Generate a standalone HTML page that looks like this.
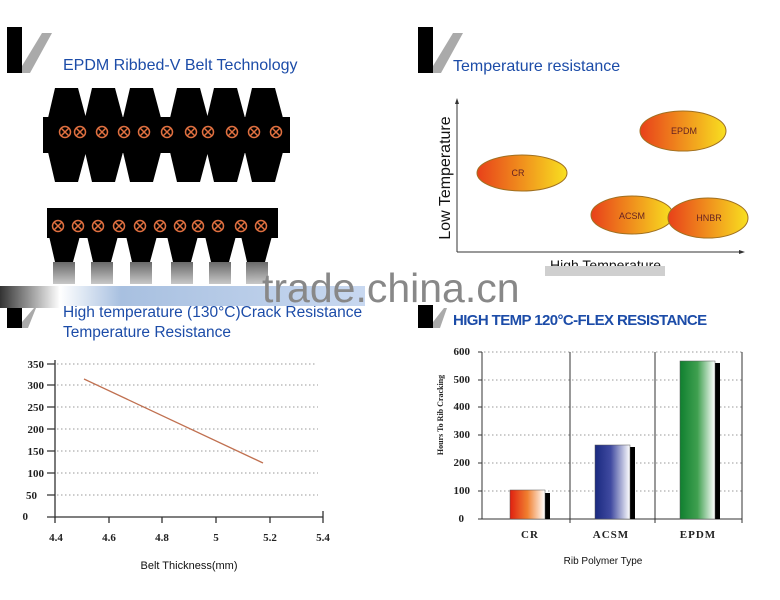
<!DOCTYPE html>
<html><head><meta charset="utf-8"><style>
body{margin:0;background:#fff;width:780px;height:600px;overflow:hidden}
svg{display:block}
.t{font-family:"Liberation Sans",sans-serif;fill:#1c4ca8}
.s{font-family:"Liberation Serif",serif;font-weight:bold;font-size:11px;fill:#222}
</style></head><body>
<svg width="780" height="600" viewBox="0 0 780 600">
<defs>
<linearGradient id="og" x1="0" x2="1"><stop offset="0" stop-color="#e8401a"/><stop offset="1" stop-color="#f8e020"/></linearGradient>
<linearGradient id="rg" x1="0" x2="1"><stop offset="0" stop-color="#e02010"/><stop offset="0.5" stop-color="#f08030"/><stop offset="1" stop-color="#fff"/></linearGradient>
<linearGradient id="bg" x1="0" x2="1"><stop offset="0" stop-color="#1a2a80"/><stop offset="0.45" stop-color="#404aa0"/><stop offset="1" stop-color="#fff"/></linearGradient>
<linearGradient id="gg" x1="0" x2="1"><stop offset="0" stop-color="#108030"/><stop offset="0.5" stop-color="#40a050"/><stop offset="1" stop-color="#fff"/></linearGradient>
<linearGradient id="wb" x1="0" x2="1"><stop offset="0" stop-color="#fff"/><stop offset="0.2" stop-color="#a8c0e0"/><stop offset="1" stop-color="#c8d8f0"/></linearGradient>
<linearGradient id="lg" x1="0" x2="1"><stop offset="0" stop-color="#000"/><stop offset="1" stop-color="#fff"/></linearGradient>
<linearGradient id="vg" x1="0" y1="0" x2="0" y2="1"><stop offset="0" stop-color="#444"/><stop offset="1" stop-color="#bbb"/></linearGradient>
</defs>
<g><rect x="7" y="27" width="15" height="46"/><polygon points="22,73 22,66 42,33 52,33 30,73" fill="#aaa"/></g>
<g><rect x="418" y="27" width="15" height="46"/><polygon points="433,73 433,66 453,33 463,33 441,73" fill="#aaa"/></g>
<g><rect x="7" y="308" width="15" height="20"/><polygon points="22,328 22,322 34,308 36,308 28,328" fill="#aaa"/></g>
<g><rect x="418" y="305" width="15" height="23"/><polygon points="433,328 433,322 444,308 447,308 440,328" fill="#aaa"/></g>
<text class="t" x="63" y="70" font-size="16">EPDM Ribbed-V Belt Technology</text>
<text class="t" x="453" y="71" font-size="16">Temperature resistance</text>
<text class="t" x="63" y="317" font-size="15.5">High temperature (130°C)Crack Resistance</text>
<text class="t" x="63" y="337" font-size="15.5">Temperature Resistance</text>
<text class="t" x="453" y="325" font-size="15" font-weight="bold" letter-spacing="-0.6">HIGH TEMP 120°C-FLEX RESISTANCE</text>
<g fill="#000">
<rect x="43" y="117" width="247" height="36"/>
<g id="tt"><polygon points="48,118 55,88 78,88 86,118"/><polygon points="48,152 55,182 78,182 86,152"/></g>
<use href="#tt" x="37"/><use href="#tt" x="75"/><use href="#tt" x="122"/><use href="#tt" x="159"/><use href="#tt" x="197"/>
</g>
<g fill="none" stroke="#e07040" stroke-width="1.5">
<g id="c1"><circle cx="65" cy="132" r="5.5"/><path d="M61,128l8,8M69,128l-8,8"/></g>
<use href="#c1" x="15"/><use href="#c1" x="37"/><use href="#c1" x="59"/><use href="#c1" x="79"/><use href="#c1" x="102"/><use href="#c1" x="126"/><use href="#c1" x="143"/><use href="#c1" x="167"/><use href="#c1" x="189"/><use href="#c1" x="211"/>
</g>
<g fill="#000">
<rect x="47" y="208" width="231" height="30"/>
<g id="t2"><polygon points="49,236 55,262 73,262 80,236"/></g>
<use href="#t2" x="38"/><use href="#t2" x="77"/><use href="#t2" x="118"/><use href="#t2" x="156"/><use href="#t2" x="192"/>
</g>
<g fill="none" stroke="#e07040" stroke-width="1.5">
<g id="c2"><circle cx="58" cy="226" r="5.5"/><path d="M54,222l8,8M62,222l-8,8"/></g>
<use href="#c2" x="20"/><use href="#c2" x="40"/><use href="#c2" x="61"/><use href="#c2" x="82"/><use href="#c2" x="102"/><use href="#c2" x="122"/><use href="#c2" x="140"/><use href="#c2" x="160"/><use href="#c2" x="183"/><use href="#c2" x="203"/>
</g>
<g fill="url(#vg)" opacity="0.8">
<rect x="53" y="262" width="22" height="22"/><rect x="91" y="262" width="22" height="22"/><rect x="130" y="262" width="22" height="22"/><rect x="171" y="262" width="22" height="22"/><rect x="209" y="262" width="22" height="22"/><rect x="246" y="262" width="22" height="22"/>
</g>
<rect x="0" y="286" width="60" height="22" fill="url(#lg)" opacity="0.8"/>
<rect x="60" y="286" width="305" height="20" fill="url(#wb)"/>
<text x="262" y="302" font-family="Liberation Sans,sans-serif" font-size="41" fill="#888">trade.china.cn</text>
<g stroke="#333" stroke-width="1" fill="none"><path d="M457,252V103M457,252H740"/></g>
<polygon points="457,98 455,104 459,104" fill="#333"/><polygon points="745,252 739,250 739,254" fill="#333"/>
<text x="450" y="178" transform="rotate(-90 450 178)" text-anchor="middle" font-family="Liberation Sans,sans-serif" font-size="16" fill="#111">Low Temperature</text>
<text x="550" y="270" font-family="Liberation Sans,sans-serif" font-size="14" fill="#111">High Temperature</text>
<rect x="540" y="266" width="140" height="10" fill="#fff"/>
<rect x="545" y="266" width="120" height="10" fill="#bbb" opacity="0.7"/>
<g stroke="#a07020" stroke-width="1" fill="url(#og)">
<ellipse cx="683" cy="131" rx="43" ry="20"/><ellipse cx="522" cy="173" rx="45" ry="18"/>
<ellipse cx="632" cy="215" rx="41" ry="19"/><ellipse cx="708" cy="218" rx="40" ry="20"/>
</g>
<g font-family="Liberation Sans,sans-serif" font-size="9" fill="#622" text-anchor="middle">
<text x="684" y="134">EPDM</text><text x="518" y="176">CR</text><text x="632" y="219">ACSM</text><text x="709" y="221">HNBR</text></g>
<g stroke="#999" stroke-dasharray="1.5,2.5">
<path d="M57,364H315M57,385H318M57,407H318M57,429H318M57,451H318M57,473H318M57,495H318"/></g>
<g stroke="#333" stroke-width="1.3" fill="none">
<path d="M55,360V518M47,517H323"/>
<path d="M47,364H55M47,385H55M47,407H55M47,429H55M47,451H55M47,473H55M47,495H55"/>
<path d="M55,517v6M109,517v6M162,517v6M216,517v6M270,517v6M323,511v12"/></g>
<path d="M84,379L263,463" stroke="#c07050" stroke-width="1.3"/>
<g class="s" text-anchor="end"><text x="44" y="368">350</text><text x="44" y="389">300</text><text x="44" y="411">250</text><text x="44" y="433">200</text><text x="44" y="455">150</text><text x="44" y="477">100</text><text x="37" y="499">50</text><text x="28" y="520">0</text></g>
<g class="s" text-anchor="middle"><text x="56" y="541">4.4</text><text x="109" y="541">4.6</text><text x="162" y="541">4.8</text><text x="216" y="541">5</text><text x="270" y="541">5.2</text><text x="323" y="541">5.4</text></g>
<text x="189" y="569" text-anchor="middle" font-family="Liberation Sans,sans-serif" font-size="11" fill="#111">Belt Thickness(mm)</text>
<g stroke="#999" stroke-dasharray="1.5,2.5">
<path d="M484,352H742M484,380H742M484,407H742M484,435H742M484,463H742M484,491H742"/></g>
<g stroke="#333" stroke-width="1" fill="none">
<path d="M482,352V519M478,519H742M570,352V523M655,352V523M742,352V523"/>
<path d="M478,352H482M478,380H482M478,407H482M478,435H482M478,463H482M478,491H482"/></g>
<rect x="545" y="493" width="5" height="26"/><rect x="510" y="490" width="35" height="29" fill="url(#rg)" stroke="#555" stroke-width="0.5"/>
<rect x="630" y="447" width="5" height="72"/><rect x="595" y="445" width="35" height="74" fill="url(#bg)" stroke="#555" stroke-width="0.5"/>
<rect x="715" y="363" width="5" height="156"/><rect x="680" y="361" width="35" height="158" fill="url(#gg)" stroke="#555" stroke-width="0.5"/>
<g class="s" font-size="9" text-anchor="end"><text x="470" y="355">600</text><text x="470" y="383">500</text><text x="470" y="410">400</text><text x="470" y="438">300</text><text x="470" y="466">200</text><text x="470" y="494">100</text><text x="464" y="522">0</text></g>
<g class="s" font-size="10" font-weight="normal" text-anchor="middle" letter-spacing="1"><text x="530" y="538">CR</text><text x="611" y="538">ACSM</text><text x="698" y="538">EPDM</text></g>
<text x="603" y="564" text-anchor="middle" font-family="Liberation Sans,sans-serif" font-size="10" fill="#111">Rib Polymer Type</text>
<text x="443" y="415" transform="rotate(-90 443 415)" text-anchor="middle" font-family="Liberation Serif,serif" font-weight="bold" font-size="8" fill="#222">Hours To Rib Cracking</text>
</svg>
</body></html>
